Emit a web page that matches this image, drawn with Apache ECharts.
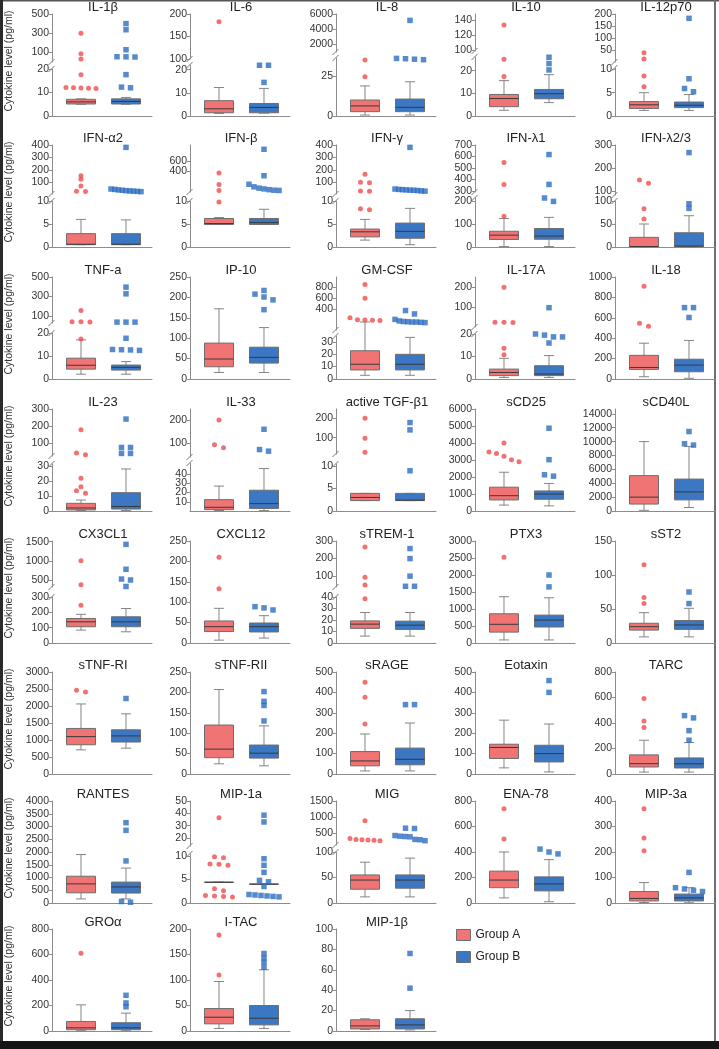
<!DOCTYPE html>
<html><head><meta charset="utf-8">
<script src="https://cdn.jsdelivr.net/npm/echarts@6/dist/echarts.min.js"></script>
<style>html,body{margin:0;padding:0;background:#fff}#c{width:719px;height:1049px}</style>
</head><body><div id="c"></div>
<script>
// ---------------- DATA ----------------
const panelNames = ['IL-1β','IL-6','IL-8','IL-10','IL-12p70',
 'IFN-α2','IFN-β','IFN-γ','IFN-λ1','IFN-λ2/3',
 'TNF-a','IP-10','GM-CSF','IL-17A','IL-18',
 'IL-23','IL-33','active TGF-β1','sCD25','sCD40L',
 'CX3CL1','CXCL12','sTREM-1','PTX3','sST2',
 'sTNF-RI','sTNF-RII','sRAGE','Eotaxin','TARC',
 'RANTES','MIP-1a','MIG','ENA-78','MIP-3a',
 'GROα','I-TAC','MIP-1β'];
const groupNames = ['Group A','Group B'];
// [lower whisker, Q1, median, Q3, upper whisker]
const boxA = [
 [5,5.1,6,7.1,7.3],[1.1,1.4,3.1,6.6,12.3],[0.6,2.7,6.3,10,18.8],[2.5,4.1,7.7,9.5,15.6],[1.2,1.6,2.4,3.1,5.0],
 [0.5,0.5,0.6,2.9,6.0],[4.9,4.9,5.1,6.2,6.4],[1.5,2.2,3.3,3.9,6.0],[2,33,52,69,125],[0,1,1,21,50],
 [2.1,4.3,6,9.1,17.1],[16,30,49,88,172],[3,7.3,11.9,22.8,46],[0.7,1.5,2.9,4.4,9.2],[22,94,113,232,351],
 [0.3,0.7,2,5.1,7.3],[0.5,1.5,4,12.3,27],[2.3,2.3,3.0,3.9,3.9],[350,650,900,1400,2280],[100,1000,2000,5100,10000],
 [84,106,138,160,187],[7,28,40,54,85],[6,12.7,16.4,19.2,26.5],[90,320,550,860,1360],[9,19,24,29,44.6],
 [710,860,1100,1340,2060],[25,40,61,120,207],[15,40,64,110,196],[30,76,130,146,264],[15,55,81,150,265],
 [160,400,750,1050,1900],[4.4,4.4,4.4,4.4,4.4],[12,27,45,55,80],[40,120,180,250,400],[2,8,18,45,80],
 [2,10,25,75,205],[5,14,27,44,97],[1.5,2,5,11,12]
];
const boxB = [
 [5,5.1,6.2,7.3,7.9],[1.2,1.4,3.7,5.4,11.9],[0.6,2.7,5.4,10.6,21.4],[5.9,7.6,9.8,11.7,18.2],[1.2,1.8,2.3,3.0,4.6],
 [0.5,0.5,0.6,2.9,5.9],[4.9,4.9,5.3,6.2,8.2],[0.5,1.9,3.4,5.2,8.4],[2,34,48,81,130],[0,1,2,31,68],
 [2.1,3.9,5.1,6.1,7.6],[16,39,53,78,126],[3,7.3,11.9,19.9,33.6],[0.7,1.5,2.2,5.9,10.4],[7,71,136,194,378],
 [0.3,1.3,3,12.2,28],[0.5,2.7,8,22.5,46],[2.3,2.3,2.4,3.9,3.9],[300,690,1000,1180,1620],[500,1600,2750,4600,9300],
 [73,106,138,171,225],[12,27,40,49,67],[6,11.8,15.5,19,26.5],[90,470,675,820,1330],[9,20,26.5,33,51],
 [760,940,1120,1300,1770],[20,39,51,71,118],[15,45,72,127,250],[10,59,100,141,245],[15,47,80,126,247],
 [160,390,630,820,1370],[4.0,4.0,4.0,4.0,4.0],[12,29,45,55,88],[10,95,150,205,340],[1,8,20,35,60],
 [2,10,25,65,140],[5,12,25,50,120],[1,2,6,12,20]
];
const outA = [
 [300,86,31,17.6,11.8,12.1,11.9,12.0,11.7],[183],[35,24.6],[134,25,17.4],[39,12,8.6,6.3],
 [153,124,70,28,26],[370,143,30,9.8],[165,100,95,30,28,8.3,8.1],[548,357,135],[148,134,83,61],
 [155,41,38,41,17.5],[],[860,600,230,195,190,185,180],[200,25,25.5,24.5,13.7,10.8],[910,547,516],
 [178,43,32,21.8,16.2,13.5,11.8],[200,94,81],[200,97,24],[4000,3470,3220,3380,3020,2890],[],
 [1000,375,247],[210,133],[266,93,49,38.5],[2520],[115,67,58],
 [2410,2460],[],[450,376,245],[],[592,416,365],
 [],[36.5,9.8,9.6,8.2,8.0,8.3,3.0,2.6,1.6,1.4,1.3,1.5],[880,330,300,290,280,270,260],[740,502],[370,255,205],
 [610],[188,110],[]
];
const outB = [
 [400,336,128,55,52,54,17.6,12.3,12.0],[21.9,21.9,14.5],[5160,36,35.5,35.8,35.2],[25.9,23.1,20.3],[182,8.0,5.9,5.2],
 [381,45,42,38,35,32,30,28,26,24],[827,315,150,100,75,60,45,35,30],[381,45,42,40,38,36,35,33,30,28],[617,357,215,200],[267,94,84],
 [396,327,36,36,36,17.8,12.7,12.9,12.5,12.8],[217,208,201,194,170],[367,303,200,170,160,155,150,150,145,140],[98,19.5,18.7,20,18.7,16],[700,700,603],
 [241,75,75,40,40],[160,73,66],[178,140,8.9],[4870,3020,2130,2050],[11450,9500,9700],
 [1430,780,525,500,330],[81,89,86],[257,200,100,42,42],[2000,1650],[75,58],
 [2220],[202,178,168,130],[340,340],[458,400],[440,458,340,265],
 [3150,2850,1650,60,30],[38.5,33,9.4,8.0,6.5,4.8,4.5,3.5,1.8,1.6,1.4,1.3,1.5,1.7],[650,640,420,400,390,380,300,290,260],[423,400,385],[120,60,55,50,45],
 [280,220,190],[152,143,135,125],[76,42]
];
const lowerTicks = [
 [0,10,20],[0,10,20],[0,25],[0,10,20],[0,5,10],
 [0,5,10],[0,5,10],[0,5,10],[0,100,200],[0,50,100],
 [0,10,20],[0,50,100,150,200,250],[0,10,20,30],[0,10,20],[0,200,400,600,800,1000],
 [0,10,20,30],[0,10,20,30,40,50],[0,5,10],[0,1000,2000,3000,4000,5000,6000],[0,2000,4000,6000,8000,10000,12000,14000],
 [0,100,200,300],[0,50,100,150,200,250],[0,10,20,30,40],[0,500,1000,1500,2000,2500,3000],[0,50,100,150],
 [0,500,1000,1500,2000,2500,3000],[0,50,100,150,200,250],[0,100,200,300,400,500],[0,100,200,300,400,500],[0,200,400,600,800],
 [0,500,1000,1500,2000,2500,3000,3500,4000],[0,5,10],[0,50,100],[0,200,400,600,800],[0,100,200,300,400],
 [0,200,400,600,800],[0,50,100,150,200],[0,20,40,60,80,100]
];
const upperTicks = [
 [100,300,500],[100,150,200],[2000,4000,6000],[100,120,140],[50,100,150,200],
 [100,200,300,400],[200,400,600,800],[100,200,300,400],[300,400,500,600,700],[100,200,300],
 [100,300,500],null,[200,400,600,800,1000],[100,200],null,
 [100,200,300],[100,200],[100,200],null,null,
 [500,1000,1500],null,[100,200,300],null,null,
 null,null,null,null,null,
 null,[20,30,40,50],[500,1000,1500],null,null,
 null,null,null
];

// ---------------- LAYOUT (positions / sizes / ranges) ----------------
const segLayout = [
 {lo:[0,20],lh:47,up:[0,500],uh:48},{lo:[0,22],lh:51,up:[100,200],uh:45},{lo:[0,36.25],lh:58,up:[1000,6000],uh:38},
 {lo:[0,26],lh:59,up:[98.6,149],uh:37},{lo:[0,10.3],lh:48,up:[0,200],uh:48},
 {lo:[0,10],lh:46,up:[5,400],uh:49},{lo:[0,10],lh:46,up:[0,910],uh:47},{lo:[0,10],lh:46,up:[5,400],uh:49},
 {lo:[0,215],lh:49,up:[291,700],uh:47},{lo:[0,100],lh:46,up:[83,300],uh:50},
 {lo:[0,20.1],lh:46,up:[27,500],uh:46},{lo:[0,250]},{lo:[0,34.7],lh:43,up:[0,1000],uh:53},
 {lo:[0,20],lh:45,up:[1.5,251.5],uh:50},{lo:[0,1000]},
 {lo:[0,31.3],lh:47,up:[25,300],uh:47},{lo:[0,52],lh:48,up:[41,247],uh:48},{lo:[0,10.4],lh:47,up:[15.5,248],uh:45},
 {lo:[0,6000]},{lo:[0,14700]},
 {lo:[0,300],lh:46,up:[317,1518],uh:46},{lo:[0,250]},{lo:[0,40],lh:46,up:[38,300],uh:46},{lo:[0,3000]},{lo:[0,150]},
 {lo:[0,3000]},{lo:[0,250]},{lo:[0,500]},{lo:[0,500]},{lo:[0,800]},
 {lo:[0,4000]},{lo:[0,10.4],lh:49,up:[13.5,50],uh:45},{lo:[0,100],lh:51,up:[125,1500],uh:44},{lo:[0,800]},{lo:[0,400]},
 {lo:[0,800]},{lo:[0,200]},{lo:[0,100]}
];
const colX = [52,190,336,475,615];
const rowZero = [116,247,379,511,643,774,903,1031];
const PH = 102, PW = 100;
const XMIN = -0.6444, XMAX = 1.5778;   // group A centre 29px, group B centre 74px from the axis
const PX = PW / (XMAX - XMIN);
const FONT = "'Liberation Sans', Arial, Helvetica, sans-serif";
const BOX_FILL = ['#F07474', '#3B77C2'];
const PT_COL = ['#F04C4E', '#2C6DC0'];
const PT_SYM = ['circle', 'rect'];
const PT_SIZE = [5, 5.5];
const AXIS_COL = '#8c8c8c';

const grids = [], xAxes = [], yAxes = [], series = [], graphics = [];

function addGrid(left, top, h, ymin, ymax, ticks, showX) {
  const gi = grids.length;
  grids.push({left: left, top: top, width: PW, height: h, containLabel: false, outerBoundsMode: 'none'});
  xAxes.push({gridIndex: gi, type: 'value', min: XMIN, max: XMAX, show: showX,
    axisLine: {show: true, onZero: false, lineStyle: {color: AXIS_COL}},
    axisTick: {show: false}, axisLabel: {show: false}, splitLine: {show: false}});
  yAxes.push({gridIndex: gi, type: 'value', min: ymin, max: ymax,
    axisLine: {show: true, onZero: false, lineStyle: {color: AXIS_COL}},
    axisTick: {show: true, length: 3, customValues: ticks, lineStyle: {color: AXIS_COL}},
    axisLabel: {show: true, customValues: ticks, fontSize: 10.5, color: '#333', margin: 3, fontFamily: FONT,
      formatter: v => String(v)},
    splitLine: {show: false}});
  return gi;
}

function renderBox(params, api) {
  const x = api.value(0);
  const yLo = api.coord([x, api.value(1)])[1];
  const yQ1 = api.coord([x, api.value(2)])[1];
  const pM = api.coord([x, api.value(3)]);
  const yQ3 = api.coord([x, api.value(4)])[1];
  const yHi = api.coord([x, api.value(5)])[1];
  const cx = pM[0], hw = 14.5, cap = 5;
  const ws = {stroke: '#858585', lineWidth: 1};
  return {type: 'group', children: [
    {type: 'line', shape: {x1: cx, y1: yHi, x2: cx, y2: yQ3}, style: ws},
    {type: 'line', shape: {x1: cx - cap, y1: yHi, x2: cx + cap, y2: yHi}, style: ws},
    {type: 'line', shape: {x1: cx, y1: yQ1, x2: cx, y2: yLo}, style: ws},
    {type: 'line', shape: {x1: cx - cap, y1: yLo, x2: cx + cap, y2: yLo}, style: ws},
    {type: 'rect', shape: {x: cx - hw, y: yQ3, width: 2 * hw, height: yQ1 - yQ3},
      style: {fill: api.visual('color'), stroke: '#6e6e6e', lineWidth: 1}},
    {type: 'line', shape: {x1: cx - hw, y1: pM[1], x2: cx + hw, y2: pM[1]}, style: {stroke: '#3a3a3a', lineWidth: 1}}
  ]};
}

// spread outliers that would overlap horizontally
function spread(values, toPx) {
  const items = values.map(v => ({v: v, px: toPx(v)})).sort((a, b) => a.px - b.px);
  const clusters = [];
  items.forEach(it => {
    const last = clusters[clusters.length - 1];
    if (last && it.px - last[last.length - 1].px < 3.5) last.push(it); else clusters.push([it]);
  });
  const res = [];
  clusters.forEach(cl => {
    const n = cl.length, sp = n > 1 ? Math.min(9, 30 / (n - 1)) : 0;
    cl.forEach((it, k) => res.push({v: it.v, dx: (k - (n - 1) / 2) * sp}));
  });
  return res;
}

panelNames.forEach((name, i) => {
  const r = Math.floor(i / 5), c = i % 5;
  const x0 = colX[c], zero = rowZero[r], top = zero - PH;
  const L = segLayout[i];
  const broken = !!upperTicks[i];
  const lh = broken ? L.lh : PH;
  const gLo = addGrid(x0, zero - lh, lh, L.lo[0], L.lo[1], lowerTicks[i], true);
  let gUp = -1;
  if (broken) {
    gUp = addGrid(x0, top, L.uh, L.up[0], L.up[1], upperTicks[i], false);
    const yb = zero - lh, yu = top + L.uh;
    [yb, yu].forEach(y => graphics.push({type: 'line', silent: true,
      shape: {x1: x0 - 3.5, y1: y + 3, x2: x0 + 2.5, y2: y - 3}, style: {stroke: '#777', lineWidth: 1}}));
  }
  const toPx = v => {
    if (broken && v > L.lo[1]) return top + L.uh - (v - L.up[0]) / (L.up[1] - L.up[0]) * L.uh;
    return zero - (v - L.lo[0]) / (L.lo[1] - L.lo[0]) * lh;
  };
  [boxA[i], boxB[i]].forEach((stats, g) => {
    series.push({type: 'custom', name: groupNames[g], xAxisIndex: gLo, yAxisIndex: gLo, clip: false, silent: true,
      itemStyle: {color: BOX_FILL[g]}, renderItem: renderBox, encode: {x: 0, y: [1, 2, 3, 4, 5]},
      data: [[g].concat(stats)], z: 2});
  });
  [outA[i], outB[i]].forEach((vals, g) => {
    if (!vals.length) return;
    const pts = spread(vals, toPx);
    const lowPts = [], upPts = [];
    pts.forEach(p => {
      const d = [g + p.dx / PX, p.v];
      if (broken && p.v > L.lo[1]) upPts.push(d); else lowPts.push(d);
    });
    [[gLo, lowPts], [gUp, upPts]].forEach(([gi, data]) => {
      if (gi < 0 || !data.length) return;
      series.push({type: 'scatter', name: groupNames[g], xAxisIndex: gi, yAxisIndex: gi, clip: false, silent: true,
        symbol: PT_SYM[g], symbolSize: PT_SIZE[g], itemStyle: {color: PT_COL[g]}, data: data, z: 3});
    });
  });
  graphics.push({type: 'text', silent: true, x: x0 + 51, y: top - 6.3,
    style: {text: name, font: '13px ' + FONT, fill: '#222', align: 'center', verticalAlign: 'middle',
      textAlign: 'center', textVerticalAlign: 'middle'}});
  if (c === 0) {
    graphics.push({type: 'text', silent: true, x: 9, y: zero - 55, rotation: Math.PI / 2,
      style: {text: 'Cytokine level (pg/ml)', font: '10.5px ' + FONT, fill: '#333', align: 'center',
        verticalAlign: 'middle', textAlign: 'center', textVerticalAlign: 'middle'}});
  }
});

// frame of the original figure
graphics.push({type: 'rect', silent: true, shape: {x: 0, y: 0, width: 719, height: 1.5}, style: {fill: '#555'}});
graphics.push({type: 'rect', silent: true, shape: {x: 0, y: 0, width: 3, height: 1049}, style: {fill: '#2a2a2a'}});
graphics.push({type: 'rect', silent: true, shape: {x: 714, y: 0, width: 2, height: 1049}, style: {fill: '#707070'}});
graphics.push({type: 'rect', silent: true, shape: {x: 0, y: 1041, width: 719, height: 8}, style: {fill: '#151515'}});

const chart = echarts.init(document.getElementById('c'), null, {renderer: 'canvas', width: 719, height: 1049});
chart.setOption({
  animation: false,
  backgroundColor: '#ffffff',
  grid: grids, xAxis: xAxes, yAxis: yAxes, series: series,
  legend: {left: 456, top: 929, orient: 'vertical', padding: 0, itemWidth: 14, itemHeight: 11, itemGap: 10,
    icon: 'rect', selectedMode: false,
    textStyle: {fontSize: 12, color: '#222', fontFamily: FONT},
    data: [{name: 'Group A', itemStyle: {color: BOX_FILL[0], borderColor: '#6e6e6e', borderWidth: 1}},
           {name: 'Group B', itemStyle: {color: BOX_FILL[1], borderColor: '#6e6e6e', borderWidth: 1}}]},
  graphic: {elements: graphics}
});
</script></body></html>
